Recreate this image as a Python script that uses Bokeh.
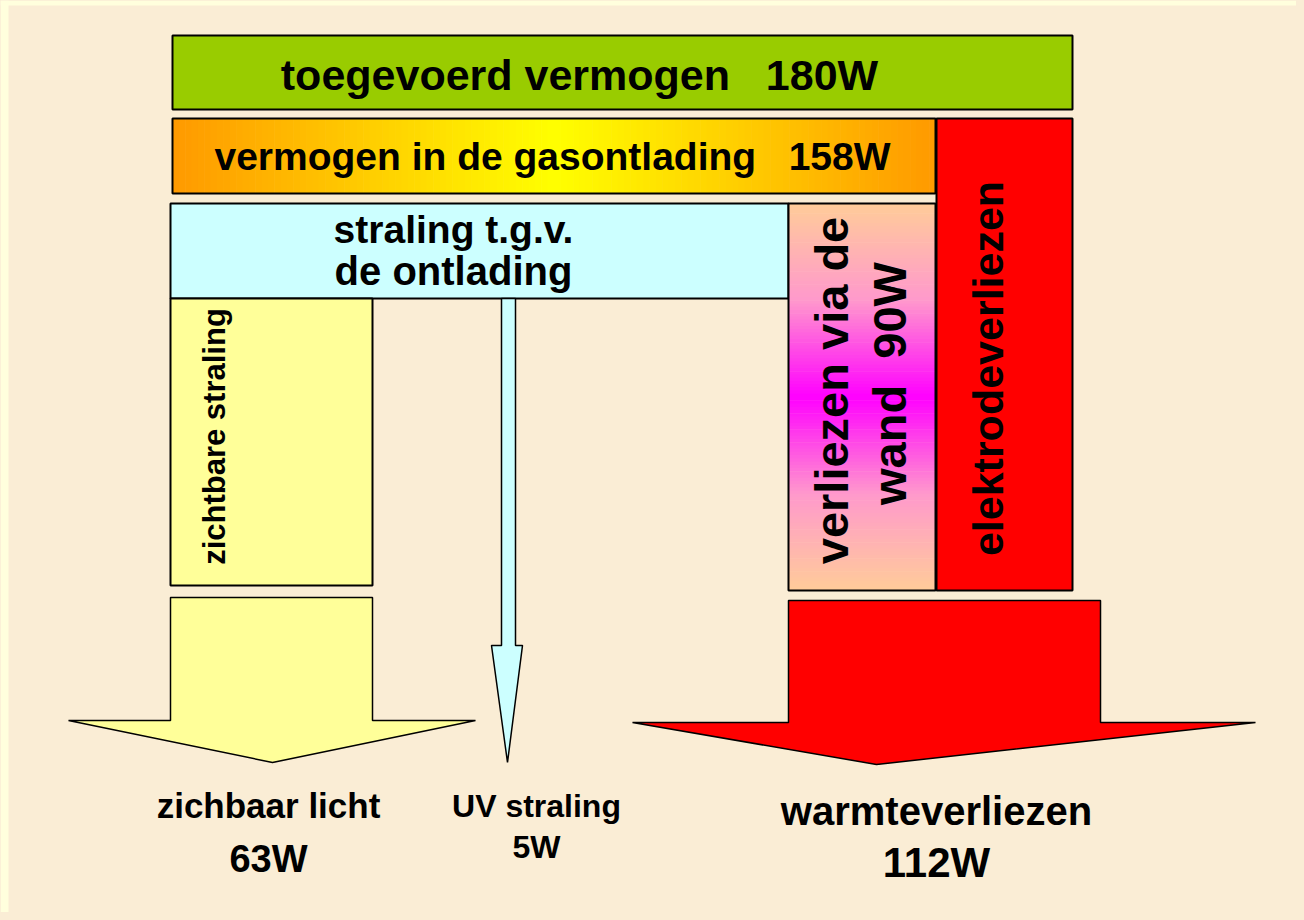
import numpy as np
from bokeh.plotting import figure
from bokeh.models import Range1d
from bokeh.core.properties import value
from bokeh.embed import file_html
from bokeh.resources import INLINE

# ---- data (watts) ----
stage_names = ["toegevoerd vermogen", "vermogen in de gasontlading", "verliezen via de",
               "zichbaar licht", "UV straling", "warmteverliezen"]
stage_watts = [180, 158, 90, 63, 5, 112]
other_labels = ["straling t.g.v.", "de ontlading", "zichtbare straling", "elektrodeverliezen", "wand"]

BEIGE = "#FAEDD5"
W, H = 1296, 912
p = figure(width=W, height=H, output_backend="svg", toolbar_location=None,
           x_range=Range1d(0, W), y_range=Range1d(H, 0),
           min_border=0, background_fill_color=BEIGE, border_fill_color=BEIGE)
p.axis.visible = False
p.grid.visible = False
p.outline_line_color = None

SANS = value("Liberation Sans")
NB = "\u00a0"

# ---- layout ----
box_green = (172, 1072, 35, 109)
box_orange = (172, 935, 118, 193)
box_red = (936, 1072, 118, 590)
box_cyan = (170, 788, 203, 298)
box_wand = (788, 935, 203, 590)
box_yellow = (170, 372, 298, 585)

# page edge strips (light yellow)
p.quad(left=0, right=8, top=0, bottom=H, fill_color="#FFFFDD", line_color=None)
p.quad(left=0, right=W, top=0, bottom=5, fill_color="#FFFFDD", line_color=None)


def rect(b, color, lw=2):
    x0, x1, y0, y1 = b
    p.quad(left=x0, right=x1, top=y0, bottom=y1, fill_color=color,
           line_color="black" if lw else None, line_width=lw)


def lerp_hex(c1, c2, t):
    a = np.array([int(c1[i:i + 2], 16) for i in (1, 3, 5)])
    b = np.array([int(c2[i:i + 2], 16) for i in (1, 3, 5)])
    c = (a + (b - a) * t).round().astype(int)
    return "#%02x%02x%02x" % tuple(c)


def grad_color(stops, t):
    for (t0, c0), (t1, c1) in zip(stops[:-1], stops[1:]):
        if t0 <= t <= t1:
            return lerp_hex(c0, c1, (t - t0) / (t1 - t0) if t1 > t0 else 0)
    return stops[-1][1]


def gradient_box(b, stops, horizontal=True, n=120):
    x0, x1, y0, y1 = b
    edges = np.linspace(0, 1, n + 1)
    mids = (edges[:-1] + edges[1:]) / 2
    cols = [grad_color(stops, t) for t in mids]
    if horizontal:
        xs = x0 + (x1 - x0) * edges
        p.quad(left=xs[:-1], right=xs[1:] + 0.6, top=y0, bottom=y1, fill_color=cols, line_color=None)
    else:
        ys = y0 + (y1 - y0) * edges
        p.quad(left=x0, right=x1, top=ys[:-1], bottom=ys[1:] + 0.6, fill_color=cols, line_color=None)
    p.quad(left=x0, right=x1, top=y0, bottom=y1, fill_color=None, line_color="black", line_width=2)


def txt(x, y, s, size, font=SANS, angle=0.0):
    p.text(x=[x], y=[y], text=[s], text_font=font, text_font_style="bold",
           text_font_size=f"{size}px", text_align="center", text_baseline="middle",
           text_color="black", angle=angle)


def arrow(shaft, head_y, head_x0, head_x1, tip, color):
    sx0, sx1, sy0 = shaft
    xs = [sx0, sx1, sx1, head_x1, tip[0], head_x0, sx0]
    ys = [sy0, sy0, head_y, head_y, tip[1], head_y, head_y]
    p.patch(xs, ys, fill_color=color, line_color="black", line_width=1.5)


# boxes
rect(box_green, "#99CC00")
gradient_box(box_orange, [(0, "#FF9900"), (0.5, "#FFFF00"), (1, "#FF9900")], horizontal=True)
rect(box_red, "#FF0000")
rect(box_cyan, "#CCFFFF")
gradient_box(box_wand, [(0, "#FFCC99"), (0.25, "#FF99CC"), (0.5, "#FF00FF"),
                        (0.75, "#FF99CC"), (1, "#FFCC99")], horizontal=False)
rect(box_yellow, "#FFFF99")

# arrows
arrow((170, 372, 597), 720, 68, 475, (272, 762), "#FFFF99")
arrow((501, 515, 298), 645, 491, 522, (507, 762), "#CCFFFF")
arrow((788, 1100, 600), 722, 632, 1255, (876, 764), "#FF0000")

# texts
txt(579, 74, f"{stage_names[0]}{NB*3}{stage_watts[0]}W", 43)
txt(552, 156, f"{stage_names[1]}{NB*3}{stage_watts[1]}W", 39)
txt(453, 229, other_labels[0], 39)
txt(453, 270, other_labels[1], 40)
txt(214, 436, other_labels[2], 31, angle=np.pi / 2)
txt(987, 368, other_labels[3], 43, angle=np.pi / 2)
txt(831, 390, stage_names[2], 47, angle=np.pi / 2)
txt(889, 383, f"{other_labels[4]}{NB*2}{stage_watts[2]}W", 47, angle=np.pi / 2)
txt(268, 805, stage_names[3], 35)
txt(268, 858, f"{stage_watts[3]}W", 38)
txt(536, 805, stage_names[4], 32)
txt(536, 846, f"{stage_watts[4]}W", 32)
txt(936, 810, stage_names[5], 40)
txt(936, 862, f"{stage_watts[5]}W", 42)

html = file_html(p, INLINE)
html = html.replace("<body>", f'<body style="background:{BEIGE}">')
open("out.html", "w").write(html)
